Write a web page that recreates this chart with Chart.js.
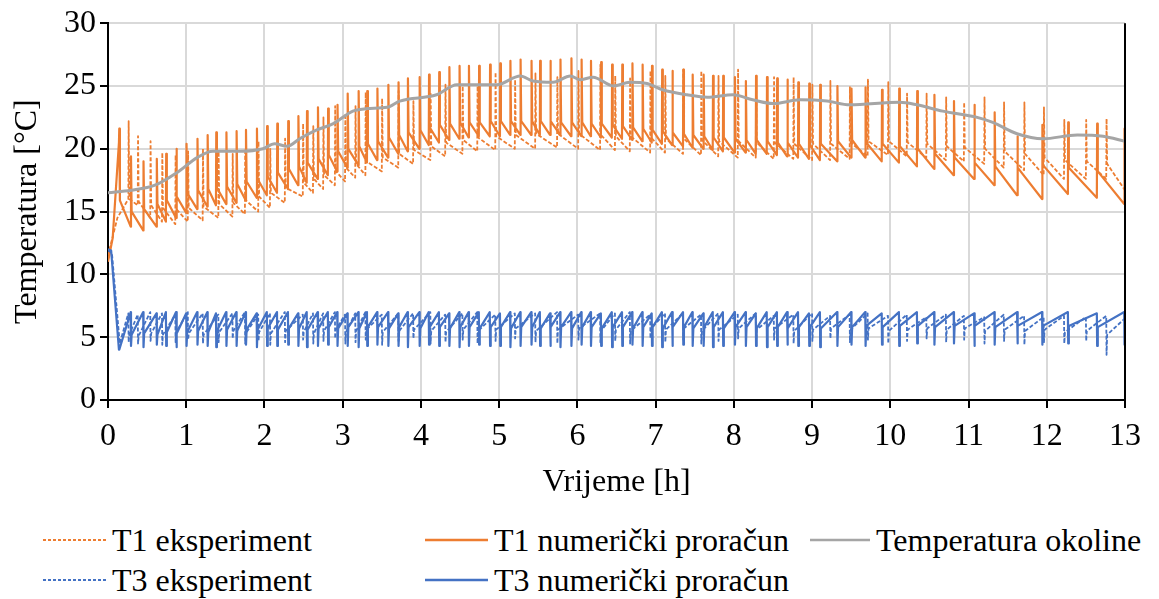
<!DOCTYPE html>
<html>
<head>
<meta charset="utf-8">
<script src="https://cdn.jsdelivr.net/npm/chart.js@4.4.1/dist/chart.umd.min.js"></script>
<style>
  body { margin: 0; background: #fff; }
  #wrap { position: relative; width: 1159px; height: 599px; }
  #chart { position: absolute; left: 0; top: 0; }
  .lg-item { position: absolute; height: 34px; display: flex; align-items: center; white-space: nowrap;
             font-family: 'Liberation Serif', 'DejaVu Serif', 'Times New Roman', serif; font-size: 32px; color: #000; }
  .lg-item svg { margin-right: 6px; }
</style>
</head>
<body>
<div id="wrap">
  <canvas id="chart" width="1159" height="510"></canvas>
  <div id="legend"></div>
</div>
<script>
// ---- ticks ----
const xTicks = [0, 1, 2, 3, 4, 5, 6, 7, 8, 9, 10, 11, 12, 13];
const yTicks = [0, 5, 10, 15, 20, 25, 30];

// ---- Temperatura okoline ----
const ambTime = [0, 0.3, 0.6, 0.88, 1.14, 1.34, 1.69, 1.98, 2.13, 2.29, 2.45, 2.67, 2.88, 3.13, 3.31, 3.57, 3.73, 4.2, 4.46, 4.76,
  4.97, 5.27, 5.43, 5.69, 5.91, 6.03, 6.2, 6.46, 6.67, 6.89, 7.09, 7.4, 7.66, 7.99, 8.24, 8.5, 8.85, 9.19, 9.48, 10.12,
  10.34, 10.67, 11.11, 11.31, 11.62, 11.95, 12.39, 12.72, 13.0];
const ambTemp = [16.5, 16.7, 17.1, 18.1, 19.3, 19.8, 19.8, 20.0, 20.4, 20.2, 20.8, 21.5, 22.0, 23.0, 23.2, 23.3, 23.8, 24.3, 25.1, 25.1,
  25.1, 25.8, 25.4, 25.3, 25.8, 25.5, 25.7, 25.0, 25.3, 25.2, 24.7, 24.3, 24.1, 24.3, 23.9, 23.6, 23.9, 23.8, 23.5, 23.7,
  23.5, 23.0, 22.5, 22.1, 21.2, 20.8, 21.1, 21.0, 20.6];

// ---- T1 numerički proračun: ciklusi (vrijeme, prije skoka, vrh, nakon pada) ----
const t1NumHeadTime = [0, 0.06];
const t1NumHeadTemp = [11.0, 12.9];
const t1NumTime = [0.14, 0.29, 0.45, 0.62, 0.74, 0.87, 1.00, 1.14, 1.27, 1.38,
  1.51, 1.64, 1.76, 1.90, 2.03, 2.16, 2.30, 2.43, 2.54, 2.68,
  2.81, 2.93, 3.06, 3.20, 3.31, 3.44, 3.58, 3.71, 3.83, 3.98,
  4.10, 4.23, 4.36, 4.49, 4.61, 4.74, 4.88, 5.01, 5.14, 5.27,
  5.41, 5.52, 5.65, 5.78, 5.92, 6.05, 6.17, 6.30, 6.44, 6.57,
  6.70, 6.83, 6.95, 7.08, 7.21, 7.35, 7.47, 7.61, 7.73, 7.86,
  8.01, 8.15, 8.28, 8.42, 8.55, 8.68, 8.82, 8.96, 9.10, 9.32,
  9.50, 9.68, 9.89, 10.11, 10.34, 10.56, 10.81, 11.07, 11.33, 11.62,
  11.94, 12.27, 12.64, 12.99];
const t1NumLow = [20.5, 13.8, 13.5, 13.8, 14.2, 14.5, 14.9, 15.2, 15.4, 15.5,
  15.6, 15.7, 15.9, 16.1, 16.3, 16.5, 16.8, 17.1, 17.3, 17.6,
  17.9, 18.2, 18.5, 18.7, 18.9, 19.1, 19.3, 19.6, 19.8, 20.0,
  20.3, 20.5, 20.7, 20.8, 20.9, 21.0, 21.0, 21.0, 21.1, 21.1,
  21.1, 21.1, 21.1, 21.1, 21.0, 21.0, 21.0, 20.9, 20.9, 20.8,
  20.7, 20.6, 20.5, 20.4, 20.3, 20.2, 20.1, 20.0, 19.9, 19.8,
  19.7, 19.7, 19.6, 19.6, 19.5, 19.4, 19.3, 19.2, 19.1, 19.0,
  19.3, 19.3, 19.0, 18.9, 18.6, 18.4, 17.9, 17.6, 17.1, 16.3,
  16.0, 16.4, 16.1, 15.6];
const t1NumPeak = [21.6, 19.4, 19.0, 19.2, 19.6, 20.0, 20.4, 20.8, 21.1, 21.3,
  21.3, 21.4, 21.5, 21.6, 21.8, 22.0, 22.2, 22.6, 23.0, 23.3,
  23.2, 23.5, 24.4, 24.6, 24.6, 24.8, 25.1, 25.3, 25.6, 25.7,
  25.9, 26.1, 26.5, 26.6, 26.6, 26.6, 26.7, 26.8, 27.0, 27.1,
  27.0, 27.0, 27.0, 27.1, 27.2, 27.1, 27.0, 26.9, 26.7, 26.7,
  26.8, 26.7, 26.6, 26.3, 26.2, 26.3, 25.9, 25.9, 25.8, 25.8,
  25.7, 25.4, 25.8, 25.7, 25.6, 25.5, 25.3, 25.2, 25.1, 25.0,
  24.8, 24.9, 24.7, 24.8, 24.6, 24.3, 23.8, 23.5, 22.9, 21.0,
  21.9, 22.1, 22.0, 21.6];
const t1NumDrop = [15.9, 15.0, 15.2, 15.6, 15.9, 16.2, 16.5, 16.7, 16.8, 16.9,
  17.0, 17.2, 17.4, 17.6, 17.8, 18.1, 18.4, 18.6, 18.9, 19.2,
  19.5, 19.8, 20.0, 20.2, 20.4, 20.6, 20.9, 21.1, 21.3, 21.5,
  21.7, 21.9, 22.0, 22.1, 22.1, 22.1, 22.2, 22.2, 22.2, 22.2,
  22.2, 22.2, 22.2, 22.1, 22.1, 22.1, 22.0, 22.0, 21.9, 21.8,
  21.7, 21.6, 21.5, 21.4, 21.3, 21.2, 21.1, 21.0, 20.9, 20.9,
  20.8, 20.7, 20.7, 20.6, 20.5, 20.5, 20.4, 20.3, 20.4, 20.6,
  20.7, 20.5, 20.4, 20.2, 20.0, 19.6, 19.3, 18.9, 18.6, 18.5,
  18.7, 18.5, 18.2, 18.0];

// ---- T1 eksperiment ----
const t1ExpHeadTime = [0, 0.12];
const t1ExpHeadTemp = [11.5, 14.5];
const t1ExpTime = [0.26, 0.38, 0.54, 0.69, 0.86, 1.02, 1.21, 1.41, 1.59, 1.75,
  1.92, 2.07, 2.26, 2.49, 2.62, 2.75, 2.90, 3.03, 3.16, 3.29,
  3.50, 3.71, 3.90, 4.12, 4.31, 4.53, 4.72, 4.95, 5.20, 5.46,
  5.74, 6.01, 6.29, 6.48, 6.67, 6.93, 7.12, 7.35, 7.58, 7.80,
  8.05, 8.28, 8.51, 8.76, 9.00, 9.23, 9.48, 9.71, 9.97, 10.21,
  10.46, 10.71, 10.94, 11.20, 11.45, 11.71, 11.96, 12.22, 12.50, 12.76];
const t1ExpLow = [16.0, 15.5, 14.5, 14.2, 14.0, 14.2, 14.3, 14.5, 14.6, 14.8,
  15.0, 15.3, 15.7, 16.2, 16.5, 16.8, 17.1, 17.4, 17.7, 17.9,
  18.2, 18.5, 18.8, 19.1, 19.4, 19.6, 19.8, 19.9, 20.0, 20.0,
  20.1, 20.0, 19.9, 19.9, 19.8, 19.7, 19.7, 19.6, 19.5, 19.4,
  19.3, 19.3, 19.2, 19.2, 19.1, 19.1, 19.2, 19.4, 19.5, 19.4,
  19.3, 19.1, 19.0, 18.8, 18.5, 18.3, 17.9, 17.6, 17.6, 17.6];
const t1ExpPeak = [22.2, 21.0, 20.6, 19.7, 19.5, 19.8, 20.0, 19.8, 19.6, 20.0,
  20.6, 20.0, 20.8, 22.0, 21.8, 22.5, 23.4, 22.8, 23.4, 24.5,
  24.0, 24.6, 23.8, 24.5, 25.1, 25.0, 25.0, 26.1, 25.5, 26.0,
  25.7, 26.2, 26.7, 25.8, 25.6, 26.2, 25.8, 26.3, 26.2, 25.8,
  26.3, 25.8, 25.7, 25.7, 25.1, 25.4, 24.9, 25.5, 25.3, 24.4,
  24.4, 24.1, 23.7, 24.1, 23.7, 23.7, 23.3, 22.3, 22.3, 22.4];
const t1ExpDrop = [16.0, 15.8, 15.5, 15.3, 15.2, 15.3, 15.4, 15.6, 15.7, 15.9,
  16.2, 16.5, 16.9, 17.3, 17.6, 17.9, 18.2, 18.5, 18.8, 19.0,
  19.3, 19.6, 19.9, 20.2, 20.5, 20.7, 20.9, 21.0, 21.1, 21.2,
  21.2, 21.2, 21.1, 21.0, 21.0, 20.9, 20.8, 20.8, 20.7, 20.6,
  20.6, 20.5, 20.5, 20.4, 20.4, 20.4, 20.5, 20.6, 20.6, 20.5,
  20.4, 20.2, 20.1, 20.0, 19.8, 19.6, 19.3, 19.1, 19.0, 18.8];
const t1ExpEnd = [13.0, 16.7];

// ---- T3 numerički proračun (isti ciklusi kao T1 numerički) ----
const t3NumHeadTime = [0, 0.04];
const t3NumHeadTemp = [12.0, 11.9];
const t3NumHigh = [4.0, 7.0, 7.0, 6.9, 7.0, 7.0, 6.9, 7.0, 7.0, 6.9,
  7.0, 7.0, 7.0, 6.9, 7.0, 7.0, 7.0, 6.9, 7.0, 7.0,
  7.0, 7.0, 6.9, 7.0, 7.0, 7.0, 7.0, 6.9, 7.0, 7.0,
  7.0, 7.0, 6.9, 7.0, 7.0, 7.0, 7.0, 6.9, 7.0, 7.0,
  7.0, 7.0, 6.9, 7.0, 7.0, 7.0, 7.0, 6.9, 7.0, 7.0,
  7.0, 7.0, 6.9, 7.0, 7.0, 7.0, 7.0, 6.9, 7.0, 7.0,
  7.0, 7.0, 6.9, 7.0, 7.0, 7.0, 7.0, 6.9, 7.0, 7.0,
  7.0, 7.0, 6.9, 7.0, 7.0, 7.0, 7.0, 6.9, 7.0, 7.0,
  7.0, 7.0, 6.9, 7.0];
const t3NumLow = [4.0, 4.3, 4.2, 4.4, 4.3, 4.2, 4.3, 4.4, 4.3, 4.2,
  4.3, 4.3, 4.4, 4.2, 4.3, 4.3, 4.4, 4.3, 4.2, 4.3,
  4.4, 4.3, 4.3, 4.2, 4.3, 4.4, 4.3, 4.3, 4.2, 4.3,
  4.4, 4.3, 4.3, 4.2, 4.3, 4.4, 4.3, 4.3, 4.2, 4.3,
  4.4, 4.3, 4.3, 4.2, 4.3, 4.4, 4.3, 4.3, 4.2, 4.3,
  4.4, 4.3, 4.3, 4.2, 4.3, 4.4, 4.3, 4.3, 4.2, 4.3,
  4.4, 4.3, 4.3, 4.2, 4.3, 4.4, 4.3, 4.3, 4.2, 4.3,
  4.4, 4.3, 4.4, 4.3, 4.5, 4.4, 4.5, 4.3, 4.4, 4.5,
  4.4, 4.5, 4.3, 4.4];
const t3NumStart = [4.0, 5.2, 5.3, 5.2, 5.4, 5.3, 5.4, 5.5, 5.4, 5.5,
  5.6, 5.5, 5.6, 5.6, 5.7, 5.6, 5.7, 5.7, 5.6, 5.7,
  5.8, 5.7, 5.8, 5.7, 5.8, 5.8, 5.7, 5.8, 5.8, 5.7,
  5.8, 5.8, 5.7, 5.8, 5.8, 5.7, 5.8, 5.8, 5.7, 5.8,
  5.8, 5.7, 5.8, 5.8, 5.7, 5.8, 5.8, 5.7, 5.8, 5.8,
  5.7, 5.8, 5.8, 5.7, 5.8, 5.8, 5.7, 5.8, 5.8, 5.7,
  5.8, 5.8, 5.7, 5.8, 5.8, 5.7, 5.8, 5.8, 5.7, 5.8,
  5.8, 5.9, 5.8, 5.9, 5.9, 5.8, 5.9, 5.9, 5.8, 5.9,
  5.9, 5.9, 5.8, 5.9];

// ---- T3 eksperiment (isti ciklusi kao T1 eksperiment) ----
const t3ExpHeadTime = [0, 0.05, 0.15];
const t3ExpHeadTemp = [11.9, 11.7, 4.5];
const t3ExpHigh = [6.9, 6.8, 7.0, 6.9, 6.8, 7.0, 6.9, 6.8, 6.9, 7.0,
  6.8, 6.9, 7.0, 6.8, 6.9, 6.9, 7.0, 6.8, 6.9, 7.0,
  6.8, 6.9, 6.9, 7.0, 6.8, 6.9, 7.0, 6.8, 6.9, 6.9,
  7.0, 6.8, 6.9, 6.9, 7.0, 6.8, 6.9, 6.9, 6.8, 6.9,
  6.8, 6.9, 6.7, 6.8, 6.9, 6.7, 6.8, 6.9, 6.7, 6.8,
  6.6, 6.8, 6.7, 6.6, 6.8, 6.7, 6.6, 6.7, 6.6, 6.7];
const t3ExpLow = [4.6, 4.5, 4.7, 4.4, 4.6, 4.8, 4.5, 4.6, 4.9, 4.5,
  4.7, 4.4, 4.6, 4.8, 4.5, 4.7, 4.9, 4.5, 4.6, 4.8,
  4.4, 4.7, 4.9, 4.5, 4.6, 4.8, 4.5, 4.7, 4.9, 4.6,
  4.5, 4.8, 4.6, 4.7, 4.5, 4.9, 4.6, 4.8, 4.5, 4.7,
  4.9, 4.6, 4.8, 4.5, 4.7, 4.9, 4.6, 4.8, 4.5, 4.7,
  4.9, 4.6, 4.8, 4.5, 4.7, 4.4, 4.6, 4.5, 4.7, 3.6];
const t3ExpStart = [5.2, 5.1, 5.3, 5.2, 5.4, 5.3, 5.2, 5.4, 5.5, 5.3,
  5.4, 5.3, 5.5, 5.4, 5.3, 5.5, 5.6, 5.4, 5.5, 5.6,
  5.4, 5.5, 5.6, 5.5, 5.4, 5.6, 5.5, 5.6, 5.7, 5.5,
  5.6, 5.7, 5.5, 5.6, 5.5, 5.7, 5.6, 5.7, 5.5, 5.6,
  5.7, 5.6, 5.7, 5.5, 5.6, 5.7, 5.6, 5.7, 5.5, 5.6,
  5.7, 5.6, 5.7, 5.5, 5.6, 5.5, 5.6, 5.4, 5.5, 5.2];
const t3ExpEnd = [13.0, 6.5];

// ---- legenda ----
const legendLabels = ['T1 eksperiment', 'T1 numerički proračun', 'Temperatura okoline',
                      'T3 eksperiment', 'T3 numerički proračun'];

const FONT = "'Liberation Serif', 'DejaVu Serif', 'Times New Roman', serif";
const FONT_SIZE = 32;
const ORANGE = '#ED7D31';
const BLUE = '#4472C4';
const GREY = '#A5A5A5';
const DASH = [4, 2];

// vertical jump at each cycle: before -> extreme -> after
const JUMP_1 = 0.004;
const JUMP_2 = 0.012;

function cycleSeries(headT, headV, times, before, extreme, after, tail) {
  const pts = headT.map((t, i) => ({ x: t, y: headV[i] }));
  times.forEach((t, i) => {
    pts.push({ x: t, y: before[i] });
    pts.push({ x: t + JUMP_1, y: extreme[i] });
    pts.push({ x: t + JUMP_2, y: after[i] });
  });
  if (tail) pts.push({ x: tail[0], y: tail[1] });
  return pts;
}

const seriesT1Exp = cycleSeries(t1ExpHeadTime, t1ExpHeadTemp, t1ExpTime, t1ExpLow, t1ExpPeak, t1ExpDrop, t1ExpEnd);
const seriesT1Num = cycleSeries(t1NumHeadTime, t1NumHeadTemp, t1NumTime, t1NumLow, t1NumPeak, t1NumDrop, null);
const seriesAmb = ambTime.map((t, i) => ({ x: t, y: ambTemp[i] }));
const seriesT3Exp = cycleSeries(t3ExpHeadTime, t3ExpHeadTemp, t1ExpTime, t3ExpHigh, t3ExpLow, t3ExpStart, t3ExpEnd);
const seriesT3Num = cycleSeries(t3NumHeadTime, t3NumHeadTemp, t1NumTime, t3NumHigh, t3NumLow, t3NumStart, null);

const rightBorder = {
  id: 'rightBorder',
  afterDatasetsDraw(chart) {
    const { ctx, chartArea: a } = chart;
    ctx.save();
    ctx.strokeStyle = '#000';
    ctx.lineWidth = 2;
    ctx.beginPath();
    ctx.moveTo(a.right, a.top);
    ctx.lineTo(a.right, a.bottom);
    ctx.stroke();
    ctx.restore();
  }
};

const baseLine = { pointRadius: 0, fill: false, borderJoinStyle: 'round', tension: 0 };
const txt = { family: FONT, size: FONT_SIZE };

new Chart(document.getElementById('chart'), {
  type: 'line',
  data: {
    datasets: [
      { ...baseLine, label: legendLabels[0], data: seriesT1Exp, borderColor: ORANGE, borderWidth: 1.8, borderDash: DASH, order: 5 },
      { ...baseLine, label: legendLabels[1], data: seriesT1Num, borderColor: ORANGE, borderWidth: 2.2, order: 4 },
      { ...baseLine, label: legendLabels[2], data: seriesAmb, borderColor: GREY, borderWidth: 3, cubicInterpolationMode: 'monotone', order: 3 },
      { ...baseLine, label: legendLabels[3], data: seriesT3Exp, borderColor: BLUE, borderWidth: 1.8, borderDash: DASH, order: 2 },
      { ...baseLine, label: legendLabels[4], data: seriesT3Num, borderColor: BLUE, borderWidth: 2.2, order: 1 },
    ]
  },
  options: {
    responsive: false,
    animation: false,
    parsing: false,
    layout: { padding: { left: 0, right: 34, top: 22, bottom: 0 } },
    plugins: { legend: { display: false }, tooltip: { enabled: false } },
    scales: {
      x: {
        type: 'linear', min: 0, max: 13,
        afterBuildTicks: s => { s.ticks = xTicks.map(v => ({ value: v })); },
        afterFit: s => { s.height = 110; },
        grid: { color: '#D9D9D9', lineWidth: 2, tickColor: '#000', tickLength: 8, tickWidth: 2 },
        border: { color: '#000', width: 2 },
        ticks: { font: txt, color: '#000', padding: 9, maxRotation: 0 },
        title: { display: true, text: 'Vrijeme [h]', font: txt, color: '#000', padding: { top: 0, bottom: 8 } }
      },
      y: {
        type: 'linear', min: 0, max: 30,
        afterBuildTicks: s => { s.ticks = yTicks.map(v => ({ value: v })); },
        afterFit: s => { s.width = 108; },
        grid: { color: '#D9D9D9', lineWidth: 2, tickColor: '#000', tickLength: 8, tickWidth: 2 },
        border: { color: '#000', width: 2 },
        ticks: { font: txt, color: '#000', padding: 4 },
        title: { display: true, text: 'Temperatura [°C]', font: txt, color: '#000', padding: { top: 8, bottom: 0 } }
      }
    }
  },
  plugins: [rightBorder]
});

// HTML legend, two rows
const legendPos = [[43, 523], [425, 523], [810, 523], [43, 563], [425, 563]];
const legendStyle = [[ORANGE, true], [ORANGE, false], [GREY, false], [BLUE, true], [BLUE, false]];
const legendEl = document.getElementById('legend');
legendLabels.forEach((label, i) => {
  const [col, dashed] = legendStyle[i];
  const item = document.createElement('div');
  item.className = 'lg-item';
  item.style.left = legendPos[i][0] + 'px';
  item.style.top = legendPos[i][1] + 'px';
  const w = i === 2 ? 60 : 63;
  item.innerHTML = '<svg width="' + w + '" height="6"><line x1="0" y1="3" x2="' + w + '" y2="3" stroke="' + col +
    '" stroke-width="' + (dashed ? 2 : 2.5) + '"' + (dashed ? ' stroke-dasharray="3 2"' : '') + '/></svg>';
  const span = document.createElement('span');
  span.textContent = label;
  item.appendChild(span);
  legendEl.appendChild(item);
});
</script>
</body>
</html>
